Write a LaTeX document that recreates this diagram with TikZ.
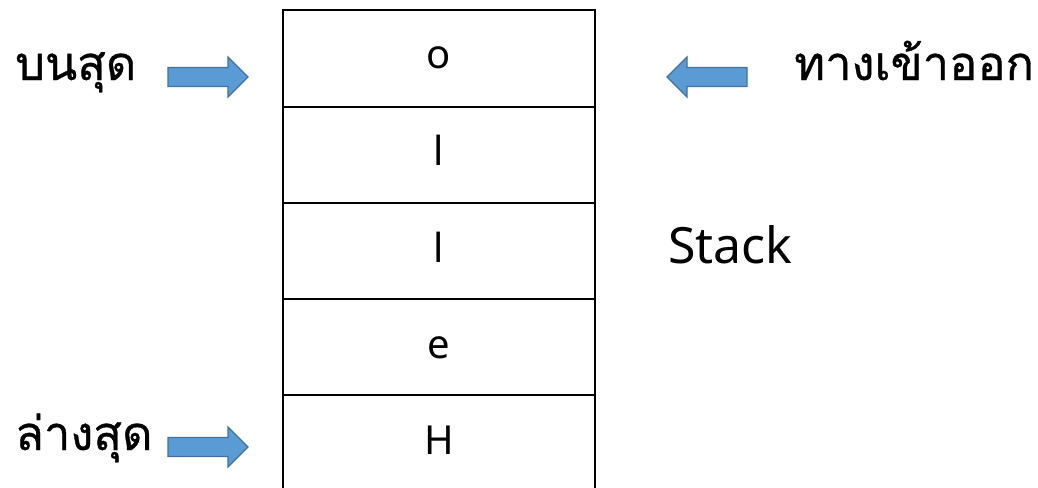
\documentclass[tikz,border=0pt]{standalone}
\usepackage{fontspec}
\setmainfont{Noto Sans}
\newfontfamily\thaifont[Script=Thai,FakeBold=0.7]{Loma}
\begin{document}
\begin{tikzpicture}[x=1pt,y=-1pt,
  celltext/.style={anchor=base,inner sep=0pt,font=\fontsize{40}{40}\selectfont},
  thailabel/.style={anchor=base west,inner sep=0pt,font=\thaifont\fontsize{47}{47}\selectfont},
  blockarrow/.style={fill={rgb,255:red,91;green,155;blue,213},draw={rgb,255:red,65;green,113;blue,156},line width=1.2pt,line join=miter},
  stackline/.style={line width=2pt},
  pics/rarrow/.style={code={
    \draw[blockarrow] (-80,-9.5) -- (-20,-9.5) -- (-20,-20) -- (0,0) -- (-20,20) -- (-20,9.5) -- (-80,9.5) -- cycle;}}
]
\useasboundingbox (0,0) rectangle (1038,487);
\clip (0,0) rectangle (1038,487);

% the stack: four closed cells and an open bottom cell
\draw[stackline] (283,395) -- (283,500);
\draw[stackline] (595,395) -- (595,500);
\draw[stackline] (283,10) rectangle (595,395);
\draw[stackline] (283,106.5) -- (595,106.5);
\draw[stackline] (283,202.5) -- (595,202.5);
\draw[stackline] (283,299) -- (595,299);

\node[celltext] (c5) at (439,69) {o};
\node[celltext] (c4) at (439,165) {l};
\node[celltext] (c3) at (439,262) {l};
\node[celltext] (c2) at (439,358) {e};
\node[celltext] (c1) at (439,454) {H};

\node[anchor=base west,inner sep=0pt,font=\fontsize{50}{50}\selectfont] (stack) at (668,263) {Stack};

% labels
\node[thailabel] (top) at (15,80) {บนสุด};
\node[thailabel] (bottom) at (15,450) {ล่างสุด};
\node[thailabel] (io) at (794,80) {ทางเข้าออก};

% block arrows
\pic at (248,77) {rarrow};
\pic at (248,447) {rarrow};
\pic[rotate=180] at (667,77) {rarrow};
\end{tikzpicture}
\end{document}
